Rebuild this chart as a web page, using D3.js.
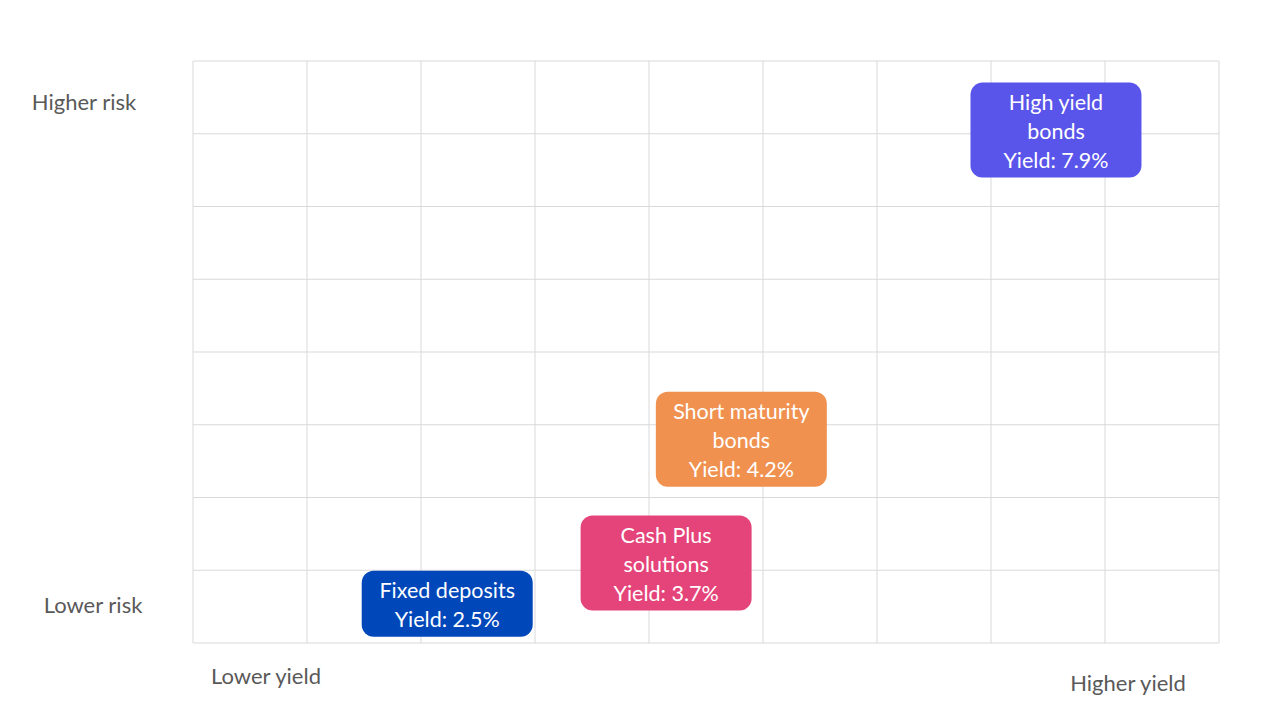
<!DOCTYPE html>
<html lang="en">
<head>
<meta charset="UTF-8">
<title>Risk vs yield</title>
<style>
    body { margin: 0; background: #ffffff; font-family: Lato, "Open Sans", sans-serif; }
    svg { display: block; }
</style>
</head>
<body>
<div id="chart"></div>
<script src="https://cdn.jsdelivr.net/npm/d3@7"></script>
<script>
// products, placed on a 9 x 8 grid (yield columns, risk rows)
const products = ["Fixed deposits", "Cash Plus solutions", "Short maturity bonds", "High yield bonds"];
const labelLines = [["Fixed deposits"], ["Cash Plus", "solutions"], ["Short maturity", "bonds"], ["High yield", "bonds"]];
const yields = ["2.5%", "3.7%", "4.2%", "7.9%"];
const yieldPos = [2.23, 4.15, 4.81, 7.57];
const riskPos = [0.54, 1.10, 2.80, 7.05];
const colors = ["#0047BA", "#E5447A", "#F09150", "#5A55EA"];

const xCols = 9, yRows = 8;
const riskLabels = ["Lower risk", "Higher risk"];
const yieldLabels = ["Lower yield", "Higher yield"];

const W = 1280, H = 720;
const svg = d3.select("#chart").append("svg").attr("width", W).attr("height", H);

const x = d3.scaleLinear().domain([0, xCols]).range([193, 1219]);
const y = d3.scaleLinear().domain([0, yRows]).range([643, 61]);

// grid
const g = svg.append("g");
g.selectAll("line.v").data(d3.range(xCols + 1)).join("line")
    .attr("x1", d => x(d)).attr("x2", d => x(d))
    .attr("y1", y(0)).attr("y2", y(yRows))
    .attr("stroke", "#d9d9d9").attr("stroke-width", 1);
g.selectAll("line.h").data(d3.range(yRows + 1)).join("line")
    .attr("x1", x(0)).attr("x2", x(xCols))
    .attr("y1", d => y(d)).attr("y2", d => y(d))
    .attr("stroke", "#d9d9d9").attr("stroke-width", 1);

// axis labels
const axisText = { fill: "#595959", size: "22px" };
svg.append("text").attr("x", 84).attr("y", 110).attr("text-anchor", "middle")
    .attr("fill", axisText.fill).style("font-size", axisText.size).text(riskLabels[1]);
svg.append("text").attr("x", 93).attr("y", 613).attr("text-anchor", "middle")
    .attr("fill", axisText.fill).style("font-size", axisText.size).text(riskLabels[0]);
svg.append("text").attr("x", 266).attr("y", 684).attr("text-anchor", "middle")
    .attr("fill", axisText.fill).style("font-size", axisText.size).text(yieldLabels[0]);
svg.append("text").attr("x", 1128).attr("y", 691).attr("text-anchor", "middle")
    .attr("fill", axisText.fill).style("font-size", axisText.size).text(yieldLabels[1]);

// boxes
const boxW = 171, lineH = 29;
const items = products.map((p, i) => ({
    name: p, lines: labelLines[i].concat(["Yield: " + yields[i]]),
    cx: x(yieldPos[i]), cy: y(riskPos[i]), color: colors[i]
}));

const box = svg.selectAll("g.box").data(items).join("g").attr("class", "box");
box.append("rect")
    .attr("x", d => d.cx - boxW / 2)
    .attr("y", d => d.cy - (d.lines.length * lineH + 8) / 2)
    .attr("width", boxW)
    .attr("height", d => d.lines.length * lineH + 8)
    .attr("rx", 12)
    .attr("fill", d => d.color);
box.each(function(d) {
    const n = d.lines.length;
    d3.select(this).selectAll("text").data(d.lines).join("text")
        .attr("x", d.cx)
        .attr("y", (t, j) => d.cy + 1 + (j - (n - 1) / 2) * lineH)
        .attr("dy", "0.35em")
        .attr("text-anchor", "middle")
        .attr("fill", "#ffffff")
        .style("font-size", "21.5px")
        .text(t => t);
});
</script>
</body>
</html>
